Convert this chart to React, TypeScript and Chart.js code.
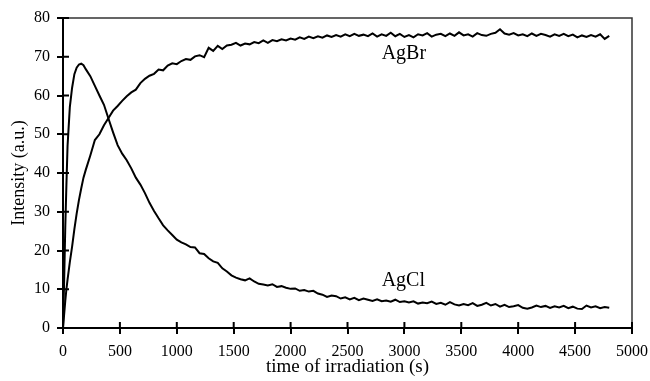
import React, { useEffect, useRef } from "react";
import { Chart, registerables } from "chart.js";

Chart.register(...registerables);

const TIMES = [
  0, 10, 20, 30, 40, 60, 80, 100, 120, 140, 160, 180, 200,
  240, 280, 320, 360, 400, 440, 480, 520, 560, 600,
  640, 680, 720, 760, 800, 840, 880, 920, 960, 1000,
  1040, 1080, 1120, 1160, 1200, 1240, 1280, 1320, 1360, 1400,
  1440, 1480, 1520, 1560, 1600, 1640, 1680, 1720, 1760, 1800,
  1840, 1880, 1920, 1960, 2000, 2040, 2080, 2120, 2160, 2200,
  2240, 2280, 2320, 2360, 2400, 2440, 2480, 2520, 2560, 2600,
  2640, 2680, 2720, 2760, 2800, 2840, 2880, 2920, 2960, 3000,
  3040, 3080, 3120, 3160, 3200, 3240, 3280, 3320, 3360, 3400,
  3440, 3480, 3520, 3560, 3600, 3640, 3680, 3720, 3760, 3800,
  3840, 3880, 3920, 3960, 4000, 4040, 4080, 4120, 4160, 4200,
  4240, 4280, 4320, 4360, 4400, 4440, 4480, 4520, 4560, 4600,
  4640, 4680, 4720, 4760, 4800,
];

const AGCL = [
  0, 12, 26, 37, 47, 57, 62, 65.5, 67.2, 68, 68.2, 67.8, 66.8,
  65, 62.5, 60, 57.6, 54, 50.5, 47.2, 45, 43.3, 41.2,
  38.8, 37, 34.8, 32.3, 30.2, 28.3, 26.5, 25.2, 24, 22.8,
  22.1, 21.6, 20.9, 20.8, 19.3, 19.1, 18, 17.2, 16.8, 15.4,
  14.6, 13.6, 13, 12.6, 12.3, 12.8, 12, 11.4, 11.2, 11,
  11.3, 10.6, 10.8, 10.4, 10.1, 10.2, 9.6, 9.8, 9.4, 9.6,
  8.9, 8.6, 8, 8.4, 8.2, 7.6, 7.9, 7.4, 7.8, 7.2,
  7.6, 7.3, 7, 7.4, 6.9, 7.1, 6.8, 7.3, 6.7, 6.9,
  6.6, 6.9, 6.3, 6.6, 6.4, 6.8, 6.2, 6.5, 6, 6.7,
  6.1, 5.8, 6.2, 5.9, 6.4, 5.7, 6, 6.5, 5.8, 6.2,
  5.5, 6, 5.4, 5.6, 5.9, 5.2, 5, 5.3, 5.8, 5.4,
  5.7, 5.2, 5.6, 5.3, 5.7, 5.1, 5.5, 5, 4.9, 5.8,
  5.3, 5.6, 5.1, 5.4, 5.2,
];

const AGBR = [
  0, 3.5, 7, 10, 12.5, 17, 21, 25.5, 29.5, 33, 36, 38.8, 40.8,
  44.5, 48.5, 50, 52.3, 54.2, 56.1, 57.3, 58.6, 59.8, 60.8,
  61.5, 63.2, 64.3, 65.1, 65.6, 66.7, 66.5, 67.7, 68.3, 68.1,
  68.9, 69.4, 69.2, 70.1, 70.4, 69.9, 72.3, 71.5, 72.8, 72,
  72.9, 73.1, 73.6, 72.9, 73.4, 73.2, 73.8, 73.5, 74.2, 73.6,
  74.3, 74, 74.5, 74.2, 74.7, 74.4, 75, 74.6, 75.2, 74.8,
  75.3, 74.9, 75.5, 75.1, 75.6, 75.2, 75.8, 75.3, 75.9, 75.4,
  75.7, 75.3, 76, 75.2, 75.8, 75.4, 76.2, 75.3, 75.9, 75.1,
  75.6, 75, 75.8, 75.5, 76.1, 75.2, 75.7, 75.9, 75.3, 76,
  75.4, 76.3, 75.5, 75.8, 75.2, 76.1, 75.6, 75.4, 75.9, 76.2,
  77.1, 76, 75.7, 76.1, 75.5, 75.8, 75.3, 76, 75.4, 75.9,
  75.6, 75.2, 75.8, 75.4, 75.9, 75.3, 75.7, 75, 75.5, 75.1,
  75.6, 75.2, 75.8, 74.6, 75.4,
];

const SERIES_NAMES = ["AgBr", "AgCl"];
const LABEL_X = [2800, 2800];
const LABEL_Y = [69.4, 10.9];

const X_TITLE = "time of irradiation (s)";
const Y_TITLE = "Intensity (a.u.)";

const FONT = "'Liberation Serif', 'Times New Roman', serif";

const frameAndTicks = {
  id: "frameAndTicks",
  afterDatasetsDraw(chart: any) {
    const { ctx, chartArea, scales } = chart;
    const { left, right, top, bottom } = chartArea;
    ctx.save();
    ctx.strokeStyle = "#333";
    ctx.lineWidth = 1.5;
    ctx.beginPath();
    ctx.moveTo(left, top);
    ctx.lineTo(right, top);
    ctx.lineTo(right, bottom);
    ctx.stroke();
    ctx.strokeStyle = "#000";
    ctx.lineWidth = 2;
    ctx.beginPath();
    scales.x.ticks.forEach((t: any) => {
      const px = scales.x.getPixelForValue(t.value);
      ctx.moveTo(px, bottom);
      ctx.lineTo(px, bottom - 6);
    });
    scales.y.ticks.forEach((t: any) => {
      const py = scales.y.getPixelForValue(t.value);
      ctx.moveTo(left, py);
      ctx.lineTo(left + 6, py);
    });
    ctx.stroke();
    ctx.fillStyle = "#000";
    ctx.font = `20px ${FONT}`;
    ctx.textAlign = "left";
    ctx.textBaseline = "alphabetic";
    SERIES_NAMES.forEach((name, i) => {
      ctx.fillText(
        name,
        scales.x.getPixelForValue(LABEL_X[i]),
        scales.y.getPixelForValue(LABEL_Y[i])
      );
    });
    ctx.restore();
  },
};

export default function App() {
  const ref = useRef<HTMLCanvasElement>(null);
  useEffect(() => {
    if (!ref.current) return;
    const chart = new Chart(ref.current, {
      type: "line",
      data: {
        datasets: [
          {
            label: "AgBr",
            data: TIMES.map((t, i) => ({ x: t, y: AGBR[i] })),
            borderColor: "#000",
            borderWidth: 2,
            pointRadius: 0,
            tension: 0,
            fill: false,
          },
          {
            label: "AgCl",
            data: TIMES.map((t, i) => ({ x: t, y: AGCL[i] })),
            borderColor: "#000",
            borderWidth: 2,
            pointRadius: 0,
            tension: 0,
            fill: false,
          },
        ],
      },
      options: {
        animation: false,
        responsive: true,
        maintainAspectRatio: false,
        layout: { padding: { left: 0, top: 18, right: 18, bottom: 0 } },
        plugins: {
          legend: { display: false },
          tooltip: { enabled: false },
        },
        scales: {
          x: {
            type: "linear",
            min: 0,
            max: 5000,
            afterFit: (s: any) => {
              s.height = 53;
              s.paddingLeft = 0;
              s.paddingRight = 0;
            },
            ticks: {
              stepSize: 500,
              autoSkip: false,
              maxRotation: 0,
              color: "#000",
              padding: 8,
              font: { family: FONT, size: 16 },
              callback: (v: any) => String(v),
            },
            grid: {
              drawOnChartArea: false,
              drawTicks: true,
              tickLength: 6,
              color: "#000",
              lineWidth: 2,
            },
            border: { display: true, color: "#000", width: 2 },
            title: {
              display: true,
              text: X_TITLE,
              color: "#000",
              font: { family: FONT, size: 19 },
              padding: { top: 0, bottom: 3 },
            },
          },
          y: {
            min: 0,
            max: 80,
            afterFit: (s: any) => {
              s.width = 63;
              s.paddingTop = 0;
              s.paddingBottom = 0;
            },
            ticks: {
              stepSize: 10,
              color: "#000",
              padding: 7,
              font: { family: FONT, size: 16 },
              callback: (v: any) => String(v),
            },
            grid: {
              drawOnChartArea: false,
              drawTicks: true,
              tickLength: 6,
              color: "#000",
              lineWidth: 2,
            },
            border: { display: true, color: "#000", width: 2 },
            title: {
              display: true,
              text: Y_TITLE,
              color: "#000",
              font: { family: FONT, size: 18 },
              padding: { top: 8, bottom: 0 },
            },
          },
        },
      },
      plugins: [frameAndTicks],
    });
    return () => chart.destroy();
  }, []);
  return (
    <div
      style={{
        position: "absolute",
        left: 0,
        top: 0,
        width: 650,
        height: 381,
        background: "#fff",
      }}
    >
      <canvas ref={ref} />
    </div>
  );
}
